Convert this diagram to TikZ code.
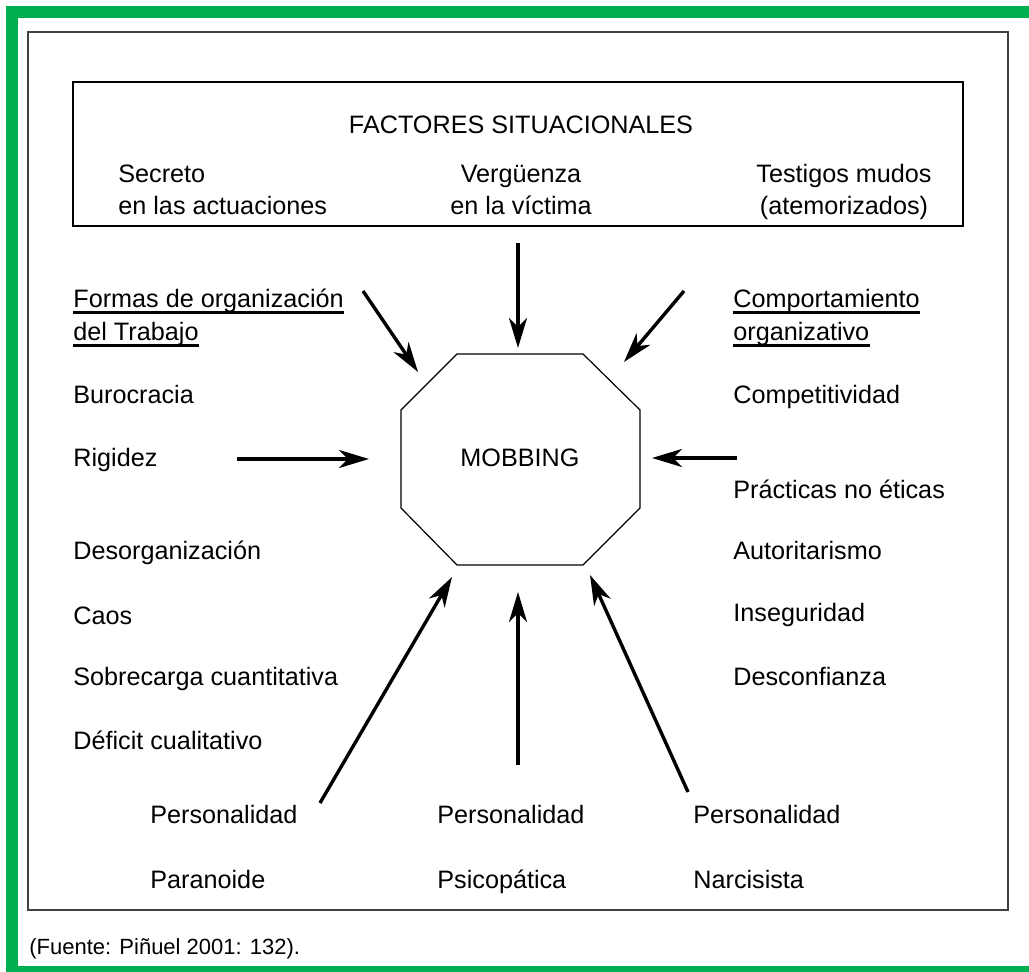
\documentclass[tikz,border=0pt]{standalone}
\usepackage{fontspec}
\setmainfont{Liberation Sans}
\usetikzlibrary{arrows.meta}
\definecolor{framegreen}{RGB}{0,175,80}
\begin{document}
\begin{tikzpicture}[x=0.5pt,y=-0.5pt,
  lbl/.style={anchor=base west,inner sep=0pt,font=\fontsize{12.6}{15}\selectfont},
  clbl/.style={lbl,anchor=base},
  arr/.style={line width=1.7pt,-{Stealth[length=15pt,width=9pt,inset=4.5pt]}},
  uline/.style={line width=1.2pt},
  thinline/.style={line width=0.6pt},
]
\useasboundingbox (0,0) rectangle (1029,972);

% green page frame
\fill[framegreen] (6,6) rectangle (18,972);
\fill[framegreen] (6,6) rectangle (1029,18);
\fill[framegreen] (6,966) rectangle (1029,972);

% outer frame and the situational-factors box
\draw[line width=1pt,draw=black!75] (28,32) rectangle (1008,910);
\draw[line width=0.75pt] (73,82) rectangle (963,226);

% situational factors
\node[clbl] (fs)  at (521,134) {FACTORES SITUACIONALES};
\node[lbl]  (s1a) at (118,183) {Secreto};
\node[lbl]  (s1b) at (118,215) {en las actuaciones};
\node[clbl] (s2a) at (521,183) {Vergüenza};
\node[clbl] (s2b) at (521,215) {en la víctima};
\node[clbl] (s3a) at (844,183) {Testigos mudos};
\node[clbl] (s3b) at (844,215) {(atemorizados)};

% central octagon
\draw[thinline] (457,354) -- (583,354) -- (640,410) -- (640,508) -- (583,565)
  -- (457,565) -- (401,508) -- (401,410) -- cycle;
\node[clbl] (mob) at (520,467) {MOBBING};

% left column: work organisation
\node[lbl] (fo1) at (73,308) {Formas de organización};
\node[lbl] (fo2) at (73,341) {del Trabajo};
\draw[uline] ([yshift=-2.2pt]fo1.base west) -- ([yshift=-2.2pt]fo1.base east);
\draw[uline] ([yshift=-2.2pt]fo2.base west) -- ([yshift=-2.2pt]fo2.base east);
\node[lbl] (l1) at (73,404) {Burocracia};
\node[lbl] (l2) at (73,467) {Rigidez};
\node[lbl] (l3) at (73,560) {Desorganización};
\node[lbl] (l4) at (73,625) {Caos};
\node[lbl] (l5) at (73,686) {Sobrecarga cuantitativa};
\node[lbl] (l6) at (73,750) {Déficit cualitativo};

% right column: organisational behaviour
\node[lbl] (co1) at (733,308) {Comportamiento};
\node[lbl] (co2) at (733,341) {organizativo};
\draw[uline] ([yshift=-2.2pt]co1.base west) -- ([yshift=-2.2pt]co1.base east);
\draw[uline] ([yshift=-2.2pt]co2.base west) -- ([yshift=-2.2pt]co2.base east);
\node[lbl] (r1) at (733,404) {Competitividad};
\node[lbl] (r2) at (733,499) {Prácticas no éticas};
\node[lbl] (r3) at (733,560) {Autoritarismo};
\node[lbl] (r4) at (733,622) {Inseguridad};
\node[lbl] (r5) at (733,686) {Desconfianza};

% personalities
\node[lbl] (p1a) at (150,824) {Personalidad};
\node[lbl] (p1b) at (150,889) {Paranoide};
\node[lbl] (p2a) at (437,824) {Personalidad};
\node[lbl] (p2b) at (437,889) {Psicopática};
\node[lbl] (p3a) at (693,824) {Personalidad};
\node[lbl] (p3b) at (693,889) {Narcisista};

% source
\node[lbl,font=\fontsize{11}{13}\selectfont] (src) at (29,954) {(Fuente: Piñuel 2001: 132).};

% arrow end points
\coordinate (aTLs) at (363,291); \coordinate (aTLe) at (418,372);
\coordinate (aTs)  at (518,243); \coordinate (aTe)  at (518,348);
\coordinate (aTRs) at (684,291); \coordinate (aTRe) at (624,362);
\coordinate (aLs)  at (237,459); \coordinate (aLe)  at (369,459);
\coordinate (aRs)  at (737,458); \coordinate (aRe)  at (652,458);
\coordinate (aBLs) at (320,803); \coordinate (aBLe) at (452,577);
\coordinate (aBs)  at (518,765); \coordinate (aBe)  at (518,592);
\coordinate (aBRs) at (688,792); \coordinate (aBRe) at (590,575);

\draw[arr] (aTLs) -- (aTLe);
\draw[arr] (aTs)  -- (aTe);
\draw[arr] (aTRs) -- (aTRe);
\draw[arr] (aLs)  -- (aLe);
\draw[arr] (aRs)  -- (aRe);
\draw[arr] (aBLs) -- (aBLe);
\draw[arr] (aBs)  -- (aBe);
\draw[arr] (aBRs) -- (aBRe);
\end{tikzpicture}
\end{document}
